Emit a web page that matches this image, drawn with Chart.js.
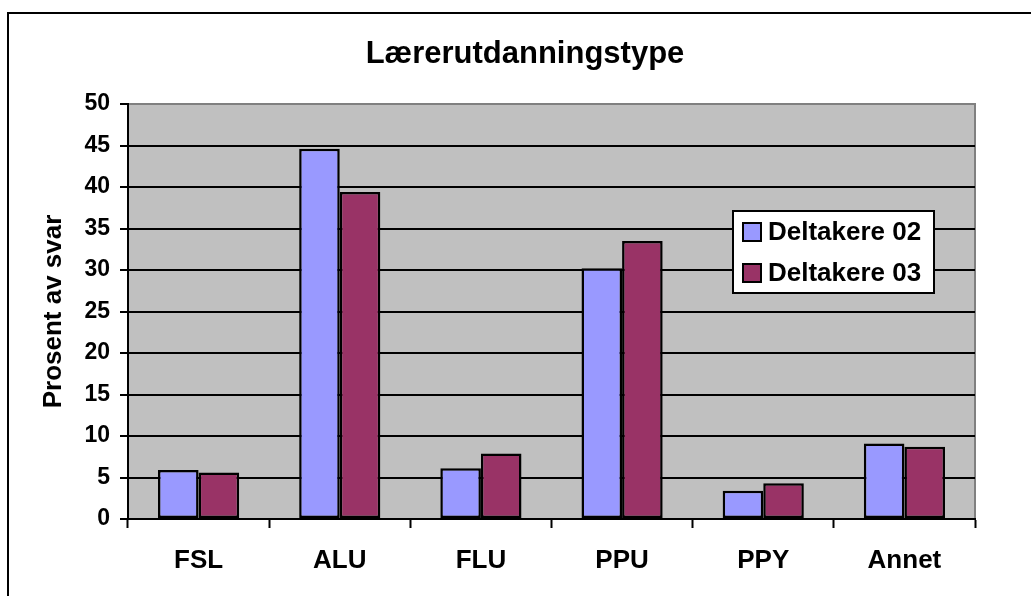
<!DOCTYPE html>
<html>
<head>
<meta charset="utf-8">
<script src="https://cdn.jsdelivr.net/npm/chart.js@4"></script>
<style>
    html, body { margin: 0; padding: 0; background: #fff; overflow: hidden; }
    #wrap { position: relative; width: 1031px; height: 596px; }
    #frame { position: absolute; left: 7px; top: 12px; width: 1100px; height: 700px; border: 2px solid #000; }
    canvas { position: absolute; left: 0; top: 0; }
</style>
</head>
<body>
<div id="wrap">
    <div id="frame"></div>
    <canvas id="chart" width="1031" height="596"></canvas>
</div>
<script>
const categories = ['FSL', 'ALU', 'FLU', 'PPU', 'PPY', 'Annet'];
const deltakere02 = [5.9, 44.6, 6.1, 30.2, 3.4, 9.1];
const deltakere03 = [5.6, 39.4, 7.9, 33.5, 4.3, 8.7];
const seriesNames = ['Deltakere 02', 'Deltakere 03'];
const yTicks = [0, 5, 10, 15, 20, 25, 30, 35, 40, 45, 50];
const chartTitle = 'Lærerutdanningstype';

const FONT = "'Liberation Sans', Arial, sans-serif";

// gray plot area with gray top/right border
const plotBackground = {
    id: 'plotBackground',
    beforeDraw(chart) {
        const { ctx, chartArea: a } = chart;
        ctx.save();
        ctx.fillStyle = '#c0c0c0';
        ctx.fillRect(a.left, a.top, a.right - a.left, a.bottom - a.top);
        ctx.strokeStyle = '#808080';
        ctx.lineWidth = 2;
        ctx.beginPath();
        ctx.moveTo(a.left, a.top);
        ctx.lineTo(a.right, a.top);
        ctx.lineTo(a.right, a.bottom);
        ctx.stroke();
        ctx.restore();
    }
};

// title centred over the whole picture, not only the padded box
const pageTitle = {
    id: 'pageTitle',
    afterDraw(chart) {
        const ctx = chart.ctx;
        ctx.save();
        ctx.font = 'bold 31px ' + FONT;
        ctx.fillStyle = '#000';
        ctx.textAlign = 'center';
        ctx.textBaseline = 'middle';
        ctx.fillText(chartTitle, 525, 54);
        ctx.restore();
    }
};

// legend box inside the plot
const boxLegend = {
    id: 'boxLegend',
    afterDraw(chart) {
        const ctx = chart.ctx;
        const x = 733, y = 211, w = 201, h = 82;
        ctx.save();
        ctx.fillStyle = '#fff';
        ctx.fillRect(x, y, w, h);
        ctx.strokeStyle = '#000';
        ctx.lineWidth = 2;
        ctx.strokeRect(x, y, w, h);
        ctx.font = 'bold 26px ' + FONT;
        ctx.textBaseline = 'middle';
        chart.data.datasets.forEach(function (ds, i) {
            const cy = y + 21 + i * 41;
            ctx.fillStyle = ds.backgroundColor;
            ctx.fillRect(x + 10, cy - 9, 18, 18);
            ctx.strokeStyle = '#000';
            ctx.lineWidth = 2;
            ctx.strokeRect(x + 10, cy - 9, 18, 18);
            ctx.fillStyle = '#000';
            ctx.fillText(ds.label, x + 35, cy + 1);
        });
        ctx.restore();
    }
};

new Chart(document.getElementById('chart'), {
    type: 'bar',
    data: {
        labels: categories,
        datasets: [
            {
                label: seriesNames[0],
                data: deltakere02,
                backgroundColor: '#9999ff',
                borderColor: '#000',
                borderWidth: 2.5,
                borderSkipped: false
            },
            {
                label: seriesNames[1],
                data: deltakere03,
                backgroundColor: '#993366',
                borderColor: '#000',
                borderWidth: 2.5,
                borderSkipped: false
            }
        ]
    },
    options: {
        responsive: false,
        animation: false,
        devicePixelRatio: 1,
        categoryPercentage: 0.575,
        barPercentage: 1.0,
        layout: { padding: { left: 10, right: 56, top: 13, bottom: 0 } },
        plugins: {
            legend: { display: false },
            tooltip: { enabled: false },
            // blank title only reserves the space; the text is drawn by pageTitle
            title: {
                display: true,
                text: ' ',
                font: { family: FONT, size: 30, weight: 'bold', lineHeight: 1.2 },
                padding: { top: 22, bottom: 33 }
            }
        },
        scales: {
            x: {
                grid: {
                    offset: true,
                    drawOnChartArea: false,
                    drawTicks: true,
                    tickLength: 9,
                    tickColor: '#000',
                    tickWidth: 2
                },
                border: { color: '#000', width: 2 },
                ticks: {
                    color: '#000',
                    padding: 17,
                    font: { family: FONT, size: 26, weight: 'bold' }
                },
                afterFit: function (scale) { scale.height = 77; }
            },
            y: {
                min: 0,
                max: 50,
                afterBuildTicks: function (scale) {
                    scale.ticks = yTicks.map(v => ({ value: v }));
                },
                grid: {
                    color: ctx => ctx.tick && ctx.tick.value === 50 ? '#808080' : '#000',
                    lineWidth: 2,
                    tickLength: 8,
                    tickColor: '#000',
                    tickWidth: 2
                },
                border: { color: '#000', width: 2 },
                ticks: {
                    color: '#000',
                    padding: 10,
                    font: { family: FONT, size: 23, weight: 'bold' }
                },
                title: {
                    display: true,
                    text: 'Prosent av svar',
                    color: '#000',
                    font: { family: FONT, size: 26, weight: 'bold', lineHeight: 1.2 },
                    padding: { top: 28, bottom: 0 }
                },
                afterFit: function (scale) { scale.width = 118; }
            }
        }
    },
    plugins: [plotBackground, pageTitle, boxLegend]
});
</script>
</body>
</html>
